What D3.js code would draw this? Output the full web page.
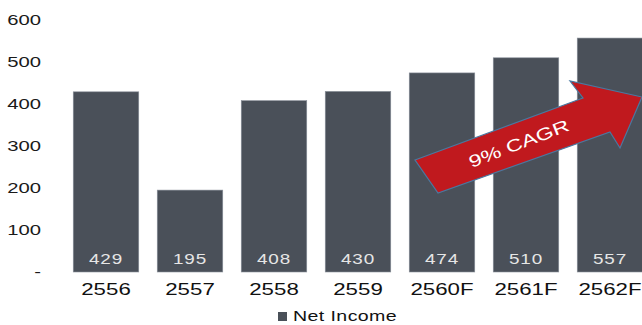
<!DOCTYPE html>
<html>
<head>
<meta charset="utf-8">
<script src="https://cdn.jsdelivr.net/npm/d3@7"></script>
<style>
  body { margin: 0; background: #fff; }
  text { font-family: "Liberation Sans", Arial, sans-serif; }
</style>
</head>
<body>
<script>
var years = ["2556", "2557", "2558", "2559", "2560F", "2561F", "2562F"];
var netIncome = [429, 195, 408, 430, 474, 510, 557];
var yTicks = [0, 100, 200, 300, 400, 500, 600];
var seriesName = "Net Income";
var cagrLabel = "9% CAGR";

var width = 642, height = 325;
var sx = 1.35; // text in the picture is stretched sideways

var svg = d3.select("body").append("svg")
  .attr("width", width)
  .attr("height", height);

var x = d3.scaleBand()
  .domain(years)
  .range([64, 652])
  .paddingInner(0.22)
  .paddingOuter(0.11);

var y = d3.scaleLinear()
  .domain([0, 600])
  .range([272, 20]);

function tr(px, py) { return "translate(" + px + "," + py + ") scale(" + sx + ",1)"; }

// y axis labels
svg.append("g").selectAll("text")
  .data(yTicks)
  .enter().append("text")
    .attr("transform", function(d) { return tr(41, y(d) + 5); })
    .attr("text-anchor", "end")
    .style("font-size", "15px")
    .style("fill", "#1a1a1a")
    .text(function(d) { return d === 0 ? "-" : d; });

// bars
var bars = svg.append("g").selectAll("g")
  .data(years)
  .enter().append("g");

bars.append("rect")
  .attr("x", function(d) { return x(d); })
  .attr("y", function(d, i) { return y(netIncome[i]); })
  .attr("width", x.bandwidth())
  .attr("height", function(d, i) { return y(0) - y(netIncome[i]); })
  .style("fill", "#4a5059")
  .style("stroke", "#8a9099")
  .style("stroke-width", 0.6);

bars.append("text")
  .attr("transform", function(d) { return tr(x(d) + x.bandwidth() / 2, 264); })
  .attr("text-anchor", "middle")
  .style("font-size", "14px")
  .style("fill", "#e6e6e6")
  .style("letter-spacing", "0.6px")
  .text(function(d, i) { return netIncome[i]; });

bars.append("text")
  .attr("transform", function(d) { return tr(x(d) + x.bandwidth() / 2, 295); })
  .attr("text-anchor", "middle")
  .style("font-size", "16.5px")
  .style("fill", "#111")
  .text(function(d) { return d; });

// legend
var legend = svg.append("g").attr("transform", "translate(278, 321)");
legend.append("rect")
  .attr("x", 0).attr("y", -9)
  .attr("width", 9).attr("height", 9)
  .style("fill", "#4a5059");
legend.append("text")
  .attr("transform", "translate(15,0) scale(" + sx + ",1)")
  .style("font-size", "14.5px")
  .style("fill", "#111")
  .style("letter-spacing", "0.3px")
  .text(seriesName);

// CAGR arrow
var arrowPts = [[415, 160], [583, 98], [570, 81], [642, 97], [620, 148], [610, 132], [438, 193]];
svg.append("path")
  .attr("d", d3.line()(arrowPts) + "Z")
  .style("fill", "#c0191e")
  .style("stroke", "#4a78a0")
  .style("stroke-width", 1.2);

svg.append("text")
  .attr("transform", "translate(521, 149) rotate(-21) scale(" + sx + ",1)")
  .attr("text-anchor", "middle")
  .style("font-size", "17px")
  .style("fill", "#fff")
  .text(cagrLabel);
</script>
</body>
</html>
